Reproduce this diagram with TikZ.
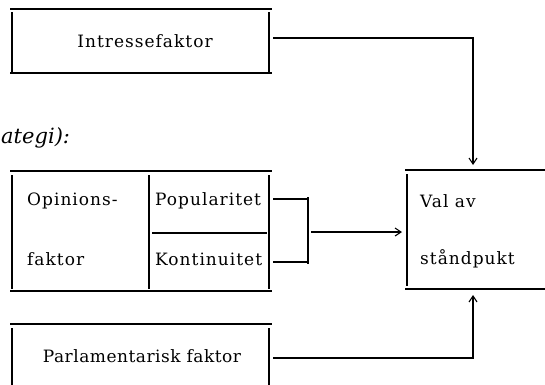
\documentclass[tikz,border=0pt]{standalone}
\usepackage{fontspec}
\setmainfont{DejaVu Serif}[LetterSpace=6]
\newfontfamily\itfont{DejaVu Serif}
\usetikzlibrary{arrows.meta}
\begin{document}
\begin{tikzpicture}[x=1pt,y=-1pt,
  hrule/.style={line width=1.6pt},
  vrule/.style={line width=1.2pt},
  conn/.style={line width=1.2pt},
  arr/.style={conn,-{Straight Barb[length=6pt,width=8pt,line width=1.1pt]}},
  lbl/.style={font=\fontsize{17}{20}\selectfont,inner sep=0pt,anchor=west}]
\useasboundingbox (0,0) rectangle (545,384);

% box: Intressefaktor
\draw[hrule] (10,9) -- (272,9);
\draw[hrule] (10,73) -- (272,73);
\draw[vrule] (12,12) -- (12,72);
\draw[vrule] (269,12) -- (269,72);
\node[lbl,anchor=center] (intr) at (145,41) {Intressefaktor};
\coordinate (intrR) at (273,38);

% italic heading fragment
\node[font=\itfont\itshape\fontsize{21}{24}\selectfont,inner sep=0pt,anchor=west] (strat) at (1,138) {ategi):};

% box: Opinionsfaktor
\draw[hrule] (10,171) -- (272,171);
\draw[hrule] (10,291) -- (272,291);
\draw[vrule] (12,175) -- (12,289);
\draw[vrule] (149,175) -- (149,289);
\draw[vrule] (269,175) -- (269,289);
\draw[line width=1.2pt] (152,233) -- (267,233);
\node[lbl] (op1) at (27,201) {Opinions-};
\node[lbl] (op2) at (27,259) {faktor};
\node[lbl] (pop) at (155,201) {Popularitet};
\node[lbl] (kon) at (155,259) {Kontinuitet};
\coordinate (popR) at (273,199);
\coordinate (konR) at (273,262);
\coordinate (brTop) at (308,197);
\coordinate (brBot) at (308,264);
\coordinate (brMid) at (311,232);

% box: Val av standpunkt
\draw[hrule] (405,170) -- (545,170);
\draw[hrule] (405,289) -- (545,289);
\draw[vrule] (407,174) -- (407,286);
\node[lbl] (val1) at (420,201) {Val av};
\node[lbl] (val2) at (420,259) {ståndpukt};
\coordinate (valTop) at (473,165);
\coordinate (valLeft) at (402,232);
\coordinate (valBot) at (473,295);

% box: Parlamentarisk faktor
\draw[hrule] (10,324) -- (272,324);
\draw[vrule] (12,328) -- (12,386);
\draw[vrule] (269,328) -- (269,386);
\node[lbl,anchor=center] (parl) at (142,356) {\addfontfeatures{LetterSpace=3}Parlamentarisk faktor};
\coordinate (parlR) at (273,358);

% connectors
\draw[arr] (intrR) -| (valTop);
\draw[conn] (popR) -- (brTop |- popR);
\draw[conn] (konR) -- (brBot |- konR);
\draw[conn] (brTop) -- (brBot);
\draw[arr] (brMid) -- (valLeft);
\draw[arr] (parlR) -| (valBot);
\end{tikzpicture}
\end{document}
